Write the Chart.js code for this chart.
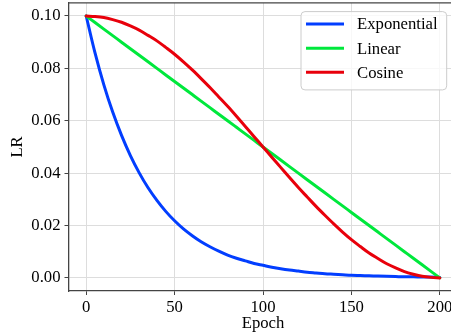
<!DOCTYPE html>
<html><head><meta charset="utf-8">
<script src="https://cdn.jsdelivr.net/npm/chart.js@4"></script>
<style>html,body{margin:0;padding:0;overflow:hidden;background:#fff}#wrap{width:480px;height:335px}</style>
</head><body><div id="wrap"><canvas id="c" width="480" height="335"></canvas></div>
<script>
const epochs = [0,5,10,15,20,25,30,35,40,45,50,55,60,65,70,75,80,85,90,95,100,105,110,115,120,125,130,135,140,145,150,155,160,165,170,175,180,185,190,195,200];
const exponential = [0.1000,0.0859,0.0737,0.0633,0.0544,0.0467,0.0401,0.0344,0.0296,0.0254,0.0218,0.0187,0.0161,0.0138,0.0119,0.0102,0.0087,0.0075,0.0065,0.0055,0.0048,0.0041,0.0035,0.0030,0.0026,0.0022,0.0019,0.0016,0.0014,0.0012,0.0010,0.0009,0.0008,0.0007,0.0006,0.0005,0.0004,0.0004,0.0003,0.0003,0.0002];
const linear = [0.1000,0.0975,0.0950,0.0925,0.0900,0.0875,0.0850,0.0825,0.0800,0.0775,0.0750,0.0725,0.0700,0.0675,0.0650,0.0625,0.0600,0.0575,0.0550,0.0525,0.0500,0.0475,0.0450,0.0425,0.0400,0.0375,0.0350,0.0325,0.0300,0.0275,0.0250,0.0225,0.0200,0.0175,0.0150,0.0125,0.0100,0.0075,0.0050,0.0025,0.0000];
const cosine = [0.1000,0.0998,0.0994,0.0986,0.0976,0.0962,0.0946,0.0926,0.0905,0.0880,0.0854,0.0825,0.0794,0.0761,0.0727,0.0691,0.0655,0.0617,0.0578,0.0539,0.0500,0.0461,0.0422,0.0383,0.0345,0.0309,0.0273,0.0239,0.0206,0.0175,0.0146,0.0120,0.0095,0.0074,0.0054,0.0038,0.0024,0.0014,0.0006,0.0002,0.0000];
const xTicks = [0,50,100,150,200];
const yTicks = [0.00,0.02,0.04,0.06,0.08,0.10];
const seriesNames = ['Exponential','Linear','Cosine'];
const seriesColors = ['#023eff','#00e83c','#e8000b'];
const xTitle = 'Epoch';
const yTitle = 'LR';

const FAMILY = "'Liberation Serif', 'Times New Roman', serif";
const FSIZE = 16.7;
Chart.defaults.font.family = FAMILY;
Chart.defaults.font.size = FSIZE;
Chart.defaults.color = '#000';
function F(){ return {family: FAMILY, size: FSIZE, lineHeight: 1.2}; }

function pts(ys){ return epochs.map((x,i)=>({x:x,y:ys[i]})); }
const seriesValues = [exponential, linear, cosine];

function noPad(s){ s.paddingTop = 0; s.paddingBottom = 0; s.paddingLeft = 0; s.paddingRight = 0; }

const legendPlugin = {
  id:'mplLegend',
  afterDraw(chart){
    const ctx = chart.ctx, ca = chart.chartArea;
    ctx.save();
    ctx.strokeStyle = '#444'; ctx.lineWidth = 1.3;
    ctx.beginPath(); ctx.moveTo(ca.left, ca.top); ctx.lineTo(ca.right, ca.top); ctx.stroke();
    const bx = ca.left + 232.5, by = ca.top + 8.7, bw = 145.7, bh = 78.3, r = 4;
    ctx.beginPath();
    ctx.moveTo(bx+r,by); ctx.lineTo(bx+bw-r,by); ctx.quadraticCurveTo(bx+bw,by,bx+bw,by+r);
    ctx.lineTo(bx+bw,by+bh-r); ctx.quadraticCurveTo(bx+bw,by+bh,bx+bw-r,by+bh);
    ctx.lineTo(bx+r,by+bh); ctx.quadraticCurveTo(bx,by+bh,bx,by+bh-r);
    ctx.lineTo(bx,by+r); ctx.quadraticCurveTo(bx,by,bx+r,by);
    ctx.closePath();
    ctx.fillStyle = 'rgba(255,255,255,0.8)'; ctx.fill();
    ctx.strokeStyle = '#cccccc'; ctx.lineWidth = 1; ctx.stroke();
    ctx.font = FSIZE + 'px ' + FAMILY;
    ctx.textBaseline = 'middle'; ctx.textAlign = 'left';
    seriesNames.forEach((name,i)=>{
      const y = by + 12.5 + i*24.1;
      ctx.strokeStyle = seriesColors[i]; ctx.lineWidth = 3;
      ctx.beginPath(); ctx.moveTo(bx+5, y); ctx.lineTo(bx+43, y); ctx.stroke();
      ctx.fillStyle = '#000';
      ctx.fillText(name, bx+56, y+1);
    });
    ctx.restore();
  }
};

const chart = new Chart(document.getElementById('c'), {
  type:'line',
  data:{
    datasets: seriesNames.map((n,i)=>({
      label:n, data:pts(seriesValues[i]), borderColor:seriesColors[i], backgroundColor:seriesColors[i],
      borderWidth:3, pointRadius:0, fill:false, cubicInterpolationMode:'monotone', order: 2-i,
      borderCapStyle:'round'
    }))
  },
  options:{
    responsive:false, animation:false, devicePixelRatio:1,
    layout:{padding:{top:3,right:5,left:0,bottom:0}},
    plugins:{legend:{display:false}, tooltip:{enabled:false}},
    scales:{
      x:{
        type:'linear', min:-10, max:210,
        afterBuildTicks:s=>{ s.ticks = xTicks.map(v=>({value:v})); },
        afterFit:s=>{ s.height = 44; noPad(s); },
        ticks:{font:F(), color:'#000', padding:3, maxRotation:0, autoSkip:false, callback:v=>String(v)},
        grid:{color:'#dddddd', lineWidth:1, tickColor:'#444', tickLength:4},
        border:{color:'#444', width:1.3},
        title:{display:true, text:xTitle, font:F(), color:'#000', padding:{top:0,bottom:1}}
      },
      y:{
        type:'linear', min:-0.005, max:0.105,
        afterBuildTicks:s=>{ s.ticks = yTicks.map(v=>({value:v})); },
        afterFit:s=>{ s.width = 68.5; noPad(s); },
        ticks:{font:F(), color:'#000', padding:4, callback:v=>Number(v).toFixed(2)},
        grid:{color:'#dddddd', lineWidth:1, tickColor:'#444', tickLength:4},
        border:{color:'#444', width:1.3},
        title:{display:true, text:yTitle, font:F(), color:'#000', padding:{top:7.5,bottom:0}}
      }
    }
  },
  plugins:[legendPlugin]
});
// align plot area to the reference frame (right edge at 457.5, top at 2.9)
(function(){
  const ca = chart.chartArea, p = chart.options.layout.padding;
  p.right = p.right + (ca.right - 457.5);
  p.top = p.top + (2.9 - ca.top);
  chart.update();
})();
</script></body></html>
